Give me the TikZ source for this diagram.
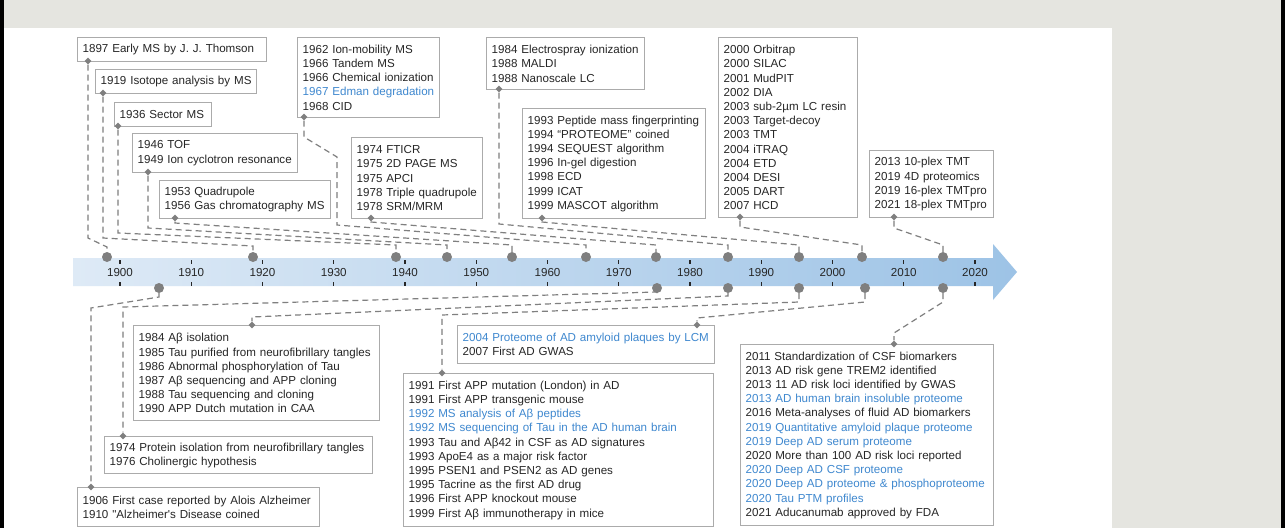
\documentclass[tikz,border=0pt]{standalone}
\usepackage{fontspec}
\setmainfont{Liberation Sans}
\usetikzlibrary{shapes.geometric}

\definecolor{bggray}{HTML}{E5E5E0}
\definecolor{boxgray}{HTML}{ABABAB}
\definecolor{linegray}{HTML}{7F7F7F}
\definecolor{txtgray}{HTML}{262626}
\definecolor{msblue}{HTML}{3F88CF}
\definecolor{barlight}{HTML}{DEEAF6}
\definecolor{bardark}{HTML}{9DC3E6}

\tikzset{
  evbox/.style={draw=boxgray, fill=white, line width=1.3pt, anchor=north west, align=left,
    inner xsep=5pt, inner ysep=4pt, text=txtgray, font=\fontsize{11.6}{14.2}\selectfont},
  conn/.style={draw=linegray, line width=1.2pt, dash pattern=on 6pt off 4pt},
  dot/.style={circle, fill=linegray, inner sep=0pt, minimum size=10pt},
  pin/.style={diamond, fill=linegray, inner sep=0pt, minimum size=7pt},
  yr/.style={text=txtgray, inner sep=0pt, font=\fontsize{11.6}{14}\selectfont},
}
\newcommand{\hl}[1]{\textcolor{msblue}{#1}}

\begin{document}
\begin{tikzpicture}[x=1pt, y=-1pt]
  \useasboundingbox (0,0) rectangle (1285,528);
  % background and panel
  \fill[bggray] (0,0) rectangle (1285,528);
  \fill[white] (4,28) rectangle (1112,528);
  \fill[black] (0,0) rectangle (4,528);
  \fill[black] (1281,0) rectangle (1285,528);

  % timeline arrow
  \shade[left color=barlight, right color=bardark]
    (73,258) -- (993,258) -- (993,244) -- (1017,272) -- (993,300) -- (993,286) -- (73,286) -- cycle;
  \foreach \yr [count=\i from 0] in {1900,1910,...,2020} {
    \node[yr] (y\yr) at ({120+71.25*\i},273) {\yr};
    \draw[txtgray, line width=1.2pt] ({120+71.25*\i},260) -- ++(0,4)
      ({120+71.25*\i},282) -- ++(0,4);
  }

  % mass spectrometry (top)
  \node[evbox, text width=179pt, minimum height=24pt] (ms1897) at (77,37) {1897 Early MS by J. J. Thomson};
  \node[evbox, text width=151pt, minimum height=24pt] (ms1919) at (95,69) {1919 Isotope analysis by MS};
  \node[evbox, text width=87pt, minimum height=24pt] (ms1936) at (114,102) {1936 Sector MS};
  \node[evbox, text width=155pt, minimum height=39pt] (ms1946) at (132,133) {1946 TOF\\1949 Ion cyclotron resonance};
  \node[evbox, text width=161pt, minimum height=38pt] (ms1953) at (159,180) {1953 Quadrupole\\1956 Gas chromatography MS};
  \node[evbox, text width=132pt, minimum height=80pt] (ms1962) at (297,37) {1962 Ion-mobility MS\\1966 Tandem MS\\1966 Chemical ionization\\\hl{1967 Edman degradation}\\1968 CID};
  \node[evbox, text width=121pt, minimum height=81pt] (ms1974) at (351,137) {1974 FTICR\\1975 2D PAGE MS\\1975 APCI\\1978 Triple quadrupole\\1978 SRM/MRM};
  \node[evbox, text width=148pt, minimum height=52pt] (ms1984) at (486,37) {1984 Electrospray ionization\\1988 MALDI\\1988 Nanoscale LC};
  \node[evbox, text width=173pt, minimum height=110pt] (ms1993) at (522,108) {1993 Peptide mass fingerprinting\\1994 “PROTEOME” coined\\1994 SEQUEST algorithm\\1996 In-gel digestion\\1998 ECD\\1999 ICAT\\1999 MASCOT algorithm};
  \node[evbox, text width=129pt, minimum height=180pt] (ms2000) at (718,37) {2000 Orbitrap\\2000 SILAC\\2001 MudPIT\\2002 DIA\\2003 sub-2µm LC resin\\2003 Target-decoy\\2003 TMT\\2004 iTRAQ\\2004 ETD\\2004 DESI\\2005 DART\\2007 HCD};
  \node[evbox, text width=114pt, minimum height=67pt] (ms2013) at (869,150) {2013 10-plex TMT\\2019 4D proteomics\\2019 16-plex TMTpro\\2021 18-plex TMTpro};

  % Alzheimer's disease (bottom)
  \node[evbox, text width=236pt, minimum height=95pt] (ad1984) at (133,325) {1984 Aβ isolation\\1985 Tau purified from neurofibrillary tangles\\1986 Abnormal phosphorylation of Tau\\1987 Aβ sequencing and APP cloning\\1988 Tau sequencing and cloning\\1990 APP Dutch mutation in CAA};
  \node[evbox, text width=258pt, minimum height=37pt] (ad1974) at (104,436) {1974 Protein isolation from neurofibrillary tangles\\1976 Cholinergic hypothesis};
  \node[evbox, text width=232pt, minimum height=39pt] (ad1906) at (77,487) {1906 First case reported by Alois Alzheimer\\1910 \textquotedbl Alzheimer\textquotesingle s Disease coined};
  \node[evbox, text width=247pt, minimum height=38pt] (ad2004) at (457,325) {\hl{2004 Proteome of AD amyloid plaques by LCM}\\2007 First AD GWAS};
  \node[evbox, text width=300pt, minimum height=153pt] (ad1991) at (403,373) {1991 First APP mutation (London) in AD\\1991 First APP transgenic mouse\\\hl{1992 MS analysis of Aβ peptides}\\\hl{1992 MS sequencing of Tau in the AD human brain}\\1993 Tau and Aβ42 in CSF as AD signatures\\1993 ApoE4 as a major risk factor\\1995 PSEN1 and PSEN2 as AD genes\\1995 Tacrine as the first AD drug\\1996 First APP knockout mouse\\1999 First Aβ immunotherapy in mice};
  \node[evbox, text width=243pt, minimum height=181pt] (ad2011) at (740,344) {2011 Standardization of CSF biomarkers\\2013 AD risk gene TREM2 identified\\2013 11 AD risk loci identified by GWAS\\\hl{2013 AD human brain insoluble proteome}\\2016 Meta-analyses of fluid AD biomarkers\\\hl{2019 Quantitative amyloid plaque proteome}\\\hl{2019 Deep AD serum proteome}\\2020 More than 100 AD risk loci reported\\\hl{2020 Deep AD CSF proteome}\\\hl{2020 Deep AD proteome \& phosphoproteome}\\\hl{2020 Tau PTM profiles}\\2021 Aducanumab approved by FDA};

  % pins on the boxes
  \node[pin] (ms1897-pin) at (88,61) {};
  \node[pin] (ms1919-pin) at (103,93) {};
  \node[pin] (ms1936-pin) at (118,126) {};
  \node[pin] (ms1946-pin) at (148,172) {};
  \node[pin] (ms1953-pin) at (175,218) {};
  \node[pin] (ms1962-pin) at (304,117) {};
  \node[pin] (ms1974-pin) at (371,218) {};
  \node[pin] (ms1984-pin) at (499,89) {};
  \node[pin] (ms1993-pin) at (542,218) {};
  \node[pin] (ms2000-pin) at (740,217) {};
  \node[pin] (ms2013-pin) at (894,217) {};
  \node[pin] (ad1906-pin) at (91,487) {};
  \node[pin] (ad1974-pin) at (123,436) {};
  \node[pin] (ad1984-pin) at (252,325) {};
  \node[pin] (ad1991-pin) at (442,373) {};
  \node[pin] (ad2004-pin) at (697,325) {};
  \node[pin] (ad2011-pin) at (894,344) {};

  % dots on the timeline
  \node[dot] (ms1897-dot) at (107,257) {};
  \node[dot] (ms1919-dot) at (253,257) {};
  \node[dot] (ms1936-dot) at (396,257) {};
  \node[dot] (ms1946-dot) at (447,257) {};
  \node[dot] (ms1953-dot) at (512,257) {};
  \node[dot] (ms1962-dot) at (586,257) {};
  \node[dot] (ms1974-dot) at (656,257) {};
  \node[dot] (ms1984-dot) at (728,257) {};
  \node[dot] (ms1993-dot) at (799,257) {};
  \node[dot] (ms2000-dot) at (862,257) {};
  \node[dot] (ms2013-dot) at (943,257) {};
  \node[dot] (ad1906-dot) at (159,288) {};
  \node[dot] (ad1974-dot) at (657,288) {};
  \node[dot] (ad1984-dot) at (728,288) {};
  \node[dot] (ad1991-dot) at (799,288) {};
  \node[dot] (ad2004-dot) at (865,288) {};
  \node[dot] (ad2011-dot) at (943,288) {};

  % connectors
  \draw[conn] (ms1897-pin) -- (ms1897-pin |- 0,238) -- (ms1897-dot |- 0,247) -- (ms1897-dot);
  \draw[conn] (ms1919-pin) -- (ms1919-pin |- 0,238) -- (ms1919-dot |- 0,246) -- (ms1919-dot);
  \draw[conn] (ms1936-pin) -- (ms1936-pin |- 0,233) -- (ms1936-dot |- 0,245) -- (ms1936-dot);
  \draw[conn] (ms1946-pin) -- (ms1946-pin |- 0,228) -- (ms1946-dot |- 0,245) -- (ms1946-dot);
  \draw[conn] (ms1953-pin) -- (ms1953-pin |- 0,223) -- (ms1953-dot |- 0,245) -- (ms1953-dot);
  \draw[conn] (ms1962-pin) -- (ms1962-pin |- 0,137) -- (337,157) -- (337,225) -- (ms1962-dot |- 0,245) -- (ms1962-dot);
  \draw[conn] (ms1974-pin) -- (ms1974-pin |- 0,222) -- (ms1974-dot |- 0,245) -- (ms1974-dot);
  \draw[conn] (ms1984-pin) -- (ms1984-pin |- 0,224) -- (ms1984-dot |- 0,245) -- (ms1984-dot);
  \draw[conn] (ms1993-pin) -- (ms1993-pin |- 0,222) -- (ms1993-dot |- 0,245) -- (ms1993-dot);
  \draw[conn] (ms2000-pin) -- (ms2000-pin |- 0,227) -- (ms2000-dot |- 0,245) -- (ms2000-dot);
  \draw[conn] (ms2013-pin) -- (ms2013-pin |- 0,228) -- (ms2013-dot |- 0,245) -- (ms2013-dot);
  \draw[conn] (ad1906-dot) -- (ad1906-dot |- 0,297) -- (ad1906-pin |- 0,308) -- (ad1906-pin);
  \draw[conn] (ad1974-dot) -- (ad1974-dot |- 0,292) -- (ad1974-pin |- 0,307) -- (ad1974-pin);
  \draw[conn] (ad1984-dot) -- (ad1984-dot |- 0,296) -- (ad1984-pin |- 0,317) -- (ad1984-pin);
  \draw[conn] (ad1991-dot) -- (ad1991-dot |- 0,302) -- (ad1991-pin |- 0,315) -- (ad1991-pin);
  \draw[conn] (ad2004-dot) -- (ad2004-dot |- 0,302) -- (ad2004-pin |- 0,318) -- (ad2004-pin);
  \draw[conn] (ad2011-dot) -- (ad2011-dot |- 0,302) -- (ad2011-pin |- 0,333) -- (ad2011-pin);
\end{tikzpicture}
\end{document}
